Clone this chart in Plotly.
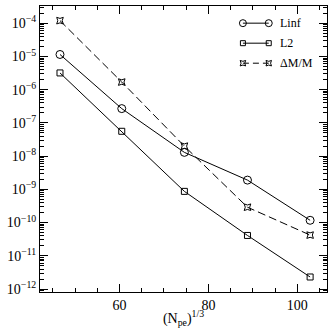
import numpy as np
import plotly.graph_objects as go

x_vals = [46.6, 60.5, 74.6, 88.8, 102.9]
linf = [1.15e-5, 2.7e-7, 1.3e-8, 1.9e-9, 1.17e-10]
l2 = [3.2e-6, 5.6e-8, 8.7e-10, 4.1e-11, 2.3e-12]
dmm = [1.2e-4, 1.7e-6, 2.0e-8, 2.9e-10, 4.2e-11]
names = ["Linf", "L2", "\u0394M/M"]
symbols = ["circle-open", "square-open", "star-square-open"]
dashes = ["solid", "solid", "dash"]
series = [linf, l2, dmm]
ytick_exp = list(range(-12, -3))

FONT = "Liberation Serif"
fig = go.Figure()
for name, ys, sym, dash in zip(names, series, symbols, dashes):
    fig.add_trace(go.Scatter(
        x=x_vals, y=ys, mode="lines+markers", name=name, showlegend=False,
        line=dict(color="black", width=1, dash=dash if dash == "solid" else "8px,4px"),
        marker=dict(symbol=sym, size=8 if sym == "circle-open" else 6,
                    color="black", line=dict(width=1, color="black")),
    ))

# custom legend on auxiliary axes
leg_y = [0.94, 0.87, 0.80]
for name, sym, dash, ly in zip(names, symbols, dashes, leg_y):
    fig.add_trace(go.Scatter(
        x=[0.707, 0.797], y=[ly, ly], mode="lines+markers", xaxis="x2", yaxis="y2",
        showlegend=False, hoverinfo="skip",
        line=dict(color="black", width=1, dash=dash if dash == "solid" else "6px,4px"),
        marker=dict(symbol=sym, size=7 if sym == "circle-open" else 5,
                    color="black", line=dict(width=1, color="black")),
    ))
    fig.add_annotation(x=0.83, y=ly, xref="x2", yref="y2", text=name, showarrow=False,
                       xanchor="left", yanchor="middle",
                       font=dict(family=FONT, size=12, color="black"))

fig.update_layout(
    width=333, height=328,
    margin=dict(l=40, r=6, t=5, b=35),
    paper_bgcolor="white", plot_bgcolor="white",
    font=dict(family=FONT, size=14, color="black"),
    xaxis=dict(
        range=[42.1, 106.7], tickvals=[60, 80, 100], ticks="inside", ticklen=8,
        tickcolor="black", linecolor="black", linewidth=1, mirror="allticks",
        showgrid=False, zeroline=False, showline=True,
        minor=dict(dtick=5, tick0=0, ticks="inside", ticklen=4, tickcolor="black", showgrid=False),
        title=dict(text="(N<sub>pe</sub>)<sup>1/3</sup>", standoff=0,
                   font=dict(family=FONT, size=14)),
        tickfont=dict(family=FONT, size=14),
    ),
    yaxis=dict(
        type="log", range=[-12.09, -3.48],
        tickvals=[10.0 ** e for e in ytick_exp],
        ticktext=["10<sup>\u2212%d</sup>" % (-e) for e in ytick_exp],
        ticks="inside", ticklen=8, tickcolor="black", linecolor="black", linewidth=1,
        mirror="allticks", showgrid=False, zeroline=False, showline=True,
        minor=dict(dtick="D1", ticks="inside", ticklen=4, tickcolor="black", showgrid=False),
        tickfont=dict(family=FONT, size=14),
    ),
    xaxis2=dict(range=[0, 1], overlaying="x", visible=False, fixedrange=True),
    yaxis2=dict(range=[0, 1], overlaying="y", visible=False, fixedrange=True),
)

fig.write_html("out.html")
